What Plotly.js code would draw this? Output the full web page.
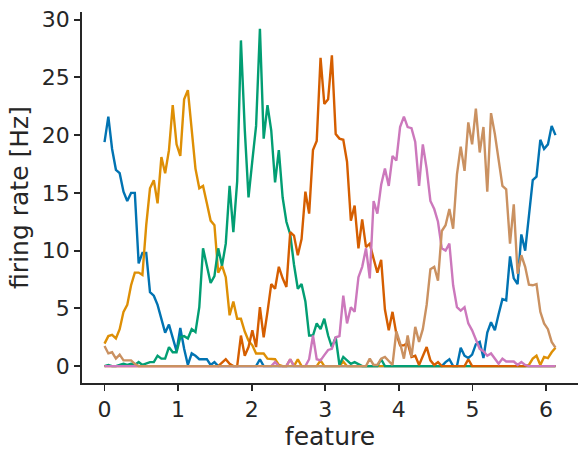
<!DOCTYPE html>
<html>
<head>
<meta charset="utf-8">
<script src="https://cdn.plot.ly/plotly-3.0.1.min.js"></script>
<style>
  html, body { margin: 0; padding: 0; background: #ffffff; }
  #chart { width: 588px; height: 459px; }
</style>
</head>
<body>
<div id="chart"></div>
<script>
// feature values (radians), 120 samples
const feature = [
  0.000, 0.052, 0.103, 0.155, 0.206, 0.258, 0.309, 0.361, 0.412, 0.464,
  0.515, 0.567, 0.618, 0.670, 0.721, 0.773, 0.824, 0.876, 0.927, 0.979,
  1.030, 1.082, 1.133, 1.185, 1.236, 1.288, 1.339, 1.391, 1.442, 1.494,
  1.545, 1.597, 1.648, 1.700, 1.751, 1.803, 1.854, 1.906, 1.957, 2.009,
  2.060, 2.112, 2.163, 2.215, 2.266, 2.318, 2.369, 2.421, 2.472, 2.524,
  2.575, 2.627, 2.678, 2.730, 2.781, 2.833, 2.884, 2.936, 2.987, 3.039,
  3.090, 3.142, 3.193, 3.245, 3.296, 3.348, 3.399, 3.451, 3.502, 3.554,
  3.605, 3.657, 3.708, 3.760, 3.811, 3.863, 3.914, 3.966, 4.017, 4.069,
  4.120, 4.172, 4.223, 4.275, 4.326, 4.378, 4.429, 4.481, 4.532, 4.584,
  4.635, 4.687, 4.738, 4.790, 4.841, 4.893, 4.944, 4.996, 5.047, 5.099,
  5.150, 5.202, 5.253, 5.305, 5.356, 5.408, 5.459, 5.511, 5.562, 5.614,
  5.665, 5.717, 5.768, 5.820, 5.871, 5.923, 5.974, 6.026, 6.077, 6.129
];

// firing rates [Hz] of six neurons
const neuron0 = [
  19.4, 21.6, 18.8, 17.0, 16.7, 15.1, 14.3, 15.0, 15.0, 8.9,
  9.8, 9.8, 6.4, 6.1, 5.3, 4.2, 2.9, 3.6, 2.5, 1.3,
  3.3, 1.5, 0.1, 1.1, 0.9, 0.6, 0.6, 0.6, 0.1, 0.35,
  0, 0, 0, 0, 0, 0, 0, 0, 0, 0,
  0, 0.6, 0, 0, 0, 0, 0, 0, 0, 0,
  0, 0, 0, 0, 0, 0, 0, 0, 0, 0,
  0, 0, 0, 0, 0, 0, 0, 0, 0, 0,
  0, 0, 0, 0, 0, 0, 0, 0, 0, 0,
  0, 0, 0, 0, 0, 0, 0, 0, 0, 0,
  0.35, 0.6, 0, 0, 1.6, 0.9, 0.7, 1.0, 1.9, 2.1,
  0.7, 2.9, 3.8, 3.1, 4.5, 5.8, 5.7, 9.5, 7.6, 7.1,
  11.4, 10.0, 13.0, 16.1, 16.4, 19.6, 18.8, 19.2, 20.8, 20.0
];
const neuron1 = [
  1.95, 2.6, 2.7, 2.4, 3.2, 4.7, 5.3, 7.0, 8.1, 8.1,
  7.9, 12.2, 15.4, 16.1, 14.1, 18.1, 16.7, 18.7, 22.6, 19.2,
  18.2, 23.1, 23.9, 20.7, 17.1, 15.4, 15.6, 14.1, 12.6, 12.2,
  8.1, 8.7, 7.7, 4.4, 5.6, 4.1, 4.1, 3.0, 2.2, 1.8,
  1.1, 1.1, 1.1, 0.65, 0.65, 0.6, 0.1, 0, 0, 0.6,
  0, 0.6, 0, 0, 0, 0, 0, 0.5, 0, 0,
  0, 0, 0, 0.4, 0, 0, 0, 0, 0, 0,
  0, 0, 0, 0, 0, 0, 0, 0, 0, 0,
  0, 0, 0, 0, 0, 0, 0, 0, 0, 0,
  0, 0, 0, 0, 0, 0, 0, 0, 0, 0,
  0, 0, 0, 0, 0, 0, 0, 0, 0, 0,
  0, 0, 0.1, 0.65, 0.9, 0.1, 0.8, 0.7, 1.2, 1.6
];
const neuron2 = [
  0, 0.1, 0, 0, 0.1, 0.2, 0.1, 0.2, 0.1, 0.35,
  0.1, 0.2, 0.35, 0.35, 0.9, 0.65, 0.65, 1.65, 1.2, 1.2,
  2.5, 2.6, 2.4, 3.2, 2.95, 5.1, 10.2, 8.7, 7.2, 7.8,
  10.2, 8.7, 10.6, 15.6, 11.6, 16.0, 28.2, 20.5, 14.6, 17.8,
  20.8, 29.2, 19.7, 22.6, 20.4, 15.9, 18.7, 14.6, 12.5, 11.4,
  8.8, 6.7, 7.1, 5.6, 2.65, 2.65, 3.7, 3.2, 4.1, 2.65,
  1.65, 2.5, 0.1, 0.8, 0.5, 0.2, 0.35, 0.2, 0, 0,
  0, 0, 0, 0.6, 0, 0, 0, 0, 0, 0,
  0, 0, 0, 0, 0, 0, 0, 0, 0, 0,
  0, 0, 0, 0, 0, 0, 0, 0, 0, 0,
  0, 0, 0, 0, 0, 0, 0, 0, 0, 0,
  0, 0, 0, 0, 0, 0, 0, 0, 0, 0
];
const neuron3 = [
  0, 0, 0, 0, 0, 0, 0, 0, 0, 0,
  0, 0, 0, 0, 0, 0, 0, 0, 0, 0,
  0, 0, 0, 0, 0, 0, 0, 0, 0, 0,
  0, 0.3, 0.6, 0.2, 0, 0, 2.65, 0.9, 1.65, 3.1,
  1.65, 5.1, 2.5, 4.7, 7.1, 6.7, 8.6, 7.6, 6.85, 11.6,
  11.3, 9.6, 11.0, 15.1, 13.2, 18.7, 19.5, 26.7, 22.7, 23.1,
  26.9, 20.1, 19.7, 19.6, 17.7, 12.6, 13.9, 10.2, 12.7, 10.3,
  10.6, 9.3, 8.1, 9.2, 4.9, 3.1, 4.7, 2.8, 1.8, 1.8,
  2.0, 0.8, 0.9, 0.1, 0.85, 1.65, 0.5, 0.1, 0.35, 0,
  0, 0, 0, 0, 0, 0, 0.6, 0, 0, 0,
  0, 0, 0, 0, 0, 0, 0, 0, 0, 0,
  0, 0, 0, 0, 0, 0, 0, 0, 0, 0
];
const neuron4 = [
  0, 0, 0, 0, 0, 0, 0, 0, 0, 0,
  0, 0, 0, 0, 0, 0, 0, 0, 0, 0,
  0, 0, 0, 0, 0, 0, 0, 0, 0, 0,
  0, 0, 0, 0, 0, 0, 0, 0, 0, 0,
  0, 0, 0, 0, 0, 0.35, 0, 0, 0, 0.6,
  0, 0, 0, 0, 0.6, 2.65, 0.6, 0.5, 0.95, 1.4,
  1.5, 2.5, 2.6, 6.1, 3.7, 5.1, 4.7, 7.7, 8.6, 10.2,
  7.6, 14.3, 13.2, 15.7, 17.1, 15.6, 18.2, 17.8, 20.7, 21.6,
  20.7, 20.6, 19.4, 15.6, 19.2, 17.1, 14.3, 13.6, 12.5, 10.2,
  10.0, 10.6, 7.0, 5.1, 4.8, 5.1, 3.7, 3.1, 2.3, 1.5,
  1.3, 0.9, 1.1, 0.65, 0.2, 0.65, 0.4, 0.4, 0.4, 0.1,
  0.35, 0.1, 0, 0, 0, 0, 0, 0, 0, 0
];
const neuron5 = [
  1.75, 1.1, 1.2, 0.65, 1.0, 0.5, 0.5, 0.5, 0.2, 0,
  0, 0, 0, 0, 0, 0, 0, 0, 0, 0,
  0, 0, 0, 0, 0, 0, 0, 0, 0, 0,
  0, 0, 0, 0, 0, 0, 0, 0, 0, 0,
  0, 0, 0, 0, 0, 0, 0, 0, 0, 0,
  0, 0, 0, 0, 0, 0, 0, 0, 0, 0,
  0, 0, 0, 0, 0, 0, 0, 0, 0, 0,
  0.65, 0.1, 0.1, 0.65, 0.8, 0.4, 0.1, 3.0, 2.0, 0.65,
  2.65, 0.8, 3.4, 2.1, 3.2, 5.3, 8.4, 8.6, 7.4, 11.7,
  12.2, 13.6, 11.9, 16.6, 19.0, 16.9, 21.1, 19.2, 22.3, 18.5,
  20.7, 15.1, 21.9, 20.1, 17.8, 15.6, 15.3, 10.6, 14.0, 8.0,
  9.6, 8.6, 7.05, 7.0, 7.1, 4.7, 3.7, 3.2, 2.1, 1.6
];

const series = [neuron0, neuron1, neuron2, neuron3, neuron4, neuron5];
const colors = ['#0173b2', '#de8f05', '#029e73', '#d55e00', '#cc78bc', '#ca9161'];

const xTicks = [0, 1, 2, 3, 4, 5, 6];
const yTicks = [0, 5, 10, 15, 20, 25, 30];

const traces = series.map((ys, k) => ({
  x: feature,
  y: ys,
  type: 'scatter',
  mode: 'lines',
  line: { color: colors[k], width: 2.4 },
  showlegend: false,
  hoverinfo: 'skip'
}));

const ink = '#262626';
const font = 'DejaVu Sans, sans-serif';

const layout = {
  width: 588,
  height: 459,
  margin: { l: 82, r: 10, t: 12, b: 76, pad: 0 },
  paper_bgcolor: '#ffffff',
  plot_bgcolor: '#ffffff',
  font: { family: font, color: ink },
  xaxis: {
    range: [-0.306, 6.435],
    tickvals: xTicks,
    ticktext: xTicks.map(String),
    ticks: 'outside',
    ticklen: 6,
    tickwidth: 1.8,
    tickcolor: ink,
    showline: true,
    linecolor: ink,
    linewidth: 1.8,
    showgrid: false,
    zeroline: false,
    tickfont: { family: font, size: 22, color: ink },
    title: { text: 'feature', font: { family: font, size: 25, color: ink }, standoff: 6 }
  },
  yaxis: {
    range: [-1.46, 30.66],
    tickvals: yTicks,
    ticktext: yTicks.map(String),
    ticks: 'outside',
    ticklen: 6,
    tickwidth: 1.8,
    tickcolor: ink,
    showline: true,
    linecolor: ink,
    linewidth: 1.8,
    showgrid: false,
    zeroline: false,
    tickfont: { family: font, size: 22, color: ink },
    title: { text: 'firing rate [Hz]', font: { family: font, size: 25, color: ink }, standoff: 6 }
  }
};

Plotly.newPlot('chart', traces, layout, { staticPlot: true, displayModeBar: false });
</script>
</body>
</html>
